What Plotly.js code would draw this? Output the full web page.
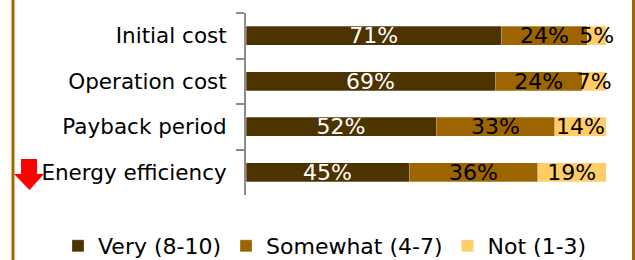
<!DOCTYPE html>
<html>
<head>
<meta charset="utf-8">
<script src="https://cdn.plot.ly/plotly-3.0.1.min.js"></script>
<style>html,body{margin:0;padding:0;background:#fff;}#chart{width:635px;height:260px;}</style>
</head>
<body>
<div id="chart"></div>
<script>
const categories = ["Initial cost", "Operation cost", "Payback period", "Energy efficiency"];
const seriesNames = ["Very (8-10)", "Somewhat (4-7)", "Not (1-3)"];
const veryValues = [71, 69.2, 52.8, 45.3];
const somewhatValues = [23.8, 24.2, 33, 35.7];
const notValues = [5.2, 6.6, 14.2, 19];
const veryLabels = ["71%", "69%", "52%", "45%"];
const somewhatLabels = ["24%", "24%", "33%", "36%"];
const notLabels = ["5%", "7%", "14%", "19%"];

const colors = ["#4d3300", "#9c6500", "#ffcc66"];
const textColors = ["#ffffff", "#000000", "#000000"];
const FONT = "DejaVu Sans, Verdana, sans-serif";

const vals = [veryValues, somewhatValues, notValues];
const labs = [veryLabels, somewhatLabels, notLabels];

const traces = vals.map((v, i) => ({
  type: "bar",
  orientation: "h",
  name: seriesNames[i],
  y: categories,
  x: v,
  text: labs[i],
  textposition: "inside",
  insidetextanchor: "middle",
  textangle: 0,
  constraintext: "none",
  cliponaxis: false,
  textfont: {family: FONT, size: 22, color: textColors[i]},
  marker: {color: colors[i], line: {color: "rgba(255,255,255,0.35)", width: 0.8}},
  hoverinfo: "none"
}));

// pixel -> paper helpers (plot area: x 246..606, y 13..195)
const L = 246, R = 29, T = 13, B = 65, W = 635, H = 260;
const pw = W - L - R, ph = H - T - B;
const px = x => (x - L) / pw;
const py = y => (H - B - y) / ph;

const arrowPts = [[21,159],[37,159],[37,174],[44,174],[29.5,190],[14,174],[21,174]];
const arrowPath = "M" + arrowPts.map(p => px(p[0]) + "," + py(p[1])).join("L") + "Z";

const layout = {
  width: W, height: H,
  margin: {l: L, r: R, t: T, b: B, pad: 0, autoexpand: false},
  paper_bgcolor: "#ffffff",
  plot_bgcolor: "#ffffff",
  barmode: "stack",
  bargap: 0.59,
  showlegend: true,
  font: {family: FONT, size: 21.5, color: "#000"},
  xaxis: {range: [0, 100], visible: false, fixedrange: true},
  yaxis: {
    autorange: "reversed",
    showline: true, linecolor: "#8c8c8c", linewidth: 2,
    ticks: "outside", tickson: "boundaries", ticklen: 8, tickcolor: "#8c8c8c", tickwidth: 2,
    ticklabelstandoff: 13,
    showgrid: false, zeroline: false,
    tickfont: {family: FONT, size: 21.5, color: "#000"}
  },
  legend: {
    orientation: "h",
    x: px(58), xanchor: "left",
    y: py(246), yanchor: "middle",
    font: {family: FONT, size: 22, color: "#000"},
    traceorder: "normal",
    bgcolor: "rgba(0,0,0,0)"
  },
  shapes: [
    {type: "line", xref: "paper", yref: "paper", x0: px(13), x1: px(13), y0: py(-5), y1: py(265), line: {color: "#9c6a00", width: 3}},
    {type: "line", xref: "paper", yref: "paper", x0: px(633.5), x1: px(633.5), y0: py(-5), y1: py(265), line: {color: "#9c6a00", width: 3}},
    {type: "path", xref: "paper", yref: "paper", path: arrowPath, fillcolor: "#ff0000", line: {width: 0}}
  ]
};

Plotly.newPlot("chart", traces, layout, {staticPlot: true, displayModeBar: false});
</script>
</body>
</html>
